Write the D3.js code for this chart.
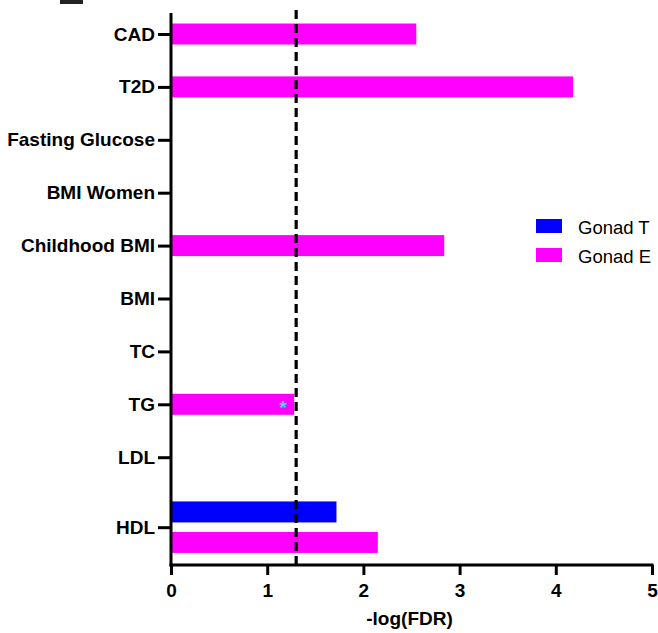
<!DOCTYPE html>
<html>
<head>
<meta charset="utf-8">
<script src="https://cdn.jsdelivr.net/npm/d3@7"></script>
<style>
  html, body { margin: 0; padding: 0; background: #fff; }
  svg { display: block; font-family: "Liberation Sans", Arial, sans-serif; }
</style>
</head>
<body>
<svg id="chart" width="658" height="633"></svg>
<script>
// ---- data ----
const categories = ["CAD", "T2D", "Fasting Glucose", "BMI Women", "Childhood BMI", "BMI", "TC", "TG", "LDL", "HDL"];
const gonadT = [null, null, null, null, null, null, null, null, null, 1.72];
const gonadE = [2.55, 4.18, null, null, 2.84, null, null, 1.28, null, 2.15];
const seriesNames = ["Gonad T", "Gonad E"];
const seriesColors = ["#0000ff", "#ff00ff"];
const xTicks = [0, 1, 2, 3, 4, 5];
const threshold = -Math.log10(0.05);
const significant = [{ cat: "TG", series: 1, mark: "*" }];
const xTitle = "-log(FDR)";

// ---- layout ----
const svg = d3.select("#chart");
const plotLeft = 171, plotRight = 652, plotTop = 13, plotBottom = 565;
const x = d3.scaleLinear().domain([0, 5]).range([plotLeft, plotRight]);

const series = [gonadT, gonadE];
// slot size per category depends on how many bars it holds
const nBars = categories.map((c, i) => series.filter(s => s[i] != null).length);
const slot = nBars.map(n => n > 1 ? 1.646 : 1);
const cum = [];
slot.reduce((acc, s, i) => { cum[i] = acc; return acc + s; }, 0);
const totalSlots = d3.sum(slot);
const ySlot = d3.scaleLinear().domain([0, totalSlots]).range([7.55, 7.55 + 52.9 * totalSlots]);
const centers = categories.map((c, i) => ySlot(cum[i] + slot[i] / 2));
const y = d3.scaleOrdinal().domain(categories).range(centers);
const barH = 21, groupOffset = 15.25;

// bars
const bars = [];
categories.forEach((c, i) => {
  const present = series.map((s, k) => k).filter(k => series[k][i] != null);
  present.forEach((k, j) => {
    const off = present.length > 1 ? (j === 0 ? -groupOffset : groupOffset) : 0;
    bars.push({ cat: c, k, v: series[k][i], cy: y(c) + off });
  });
});
svg.append("g").selectAll("rect").data(bars).join("rect")
  .attr("x", x(0))
  .attr("y", d => d.cy - barH / 2)
  .attr("width", d => x(d.v) - x(0))
  .attr("height", barH)
  .attr("fill", d => seriesColors[d.k]);

// significance marks
svg.append("g").selectAll("text").data(significant).join("text")
  .attr("x", d => { const i = categories.indexOf(d.cat); return x(series[d.series][i]) - 11; })
  .attr("y", d => y(d.cat) + 10)
  .attr("text-anchor", "middle")
  .attr("font-size", 19)
  .attr("font-weight", "bold")
  .attr("fill", "#38d8f8")
  .text(d => d.mark);

// threshold line
svg.append("line")
  .attr("x1", x(threshold)).attr("x2", x(threshold))
  .attr("y1", 10).attr("y2", plotBottom)
  .attr("stroke", "#000").attr("stroke-width", 3.2)
  .attr("stroke-dasharray", "9,5");

// x axis
const xAxis = svg.append("g").attr("transform", `translate(0,${plotBottom})`)
  .call(d3.axisBottom(x).tickValues(xTicks).tickFormat(d3.format("d")).tickSizeInner(10).tickSizeOuter(0));
xAxis.select(".domain").remove();
xAxis.selectAll(".tick line").attr("stroke", "#000").attr("stroke-width", 3);
xAxis.selectAll(".tick text").attr("font-size", 19).attr("font-weight", "bold").attr("fill", "#000")
  .attr("dy", null).attr("y", 32).attr("font-family", "Liberation Sans, Arial, sans-serif");
svg.append("line").attr("x1", plotLeft - 1.5).attr("x2", plotRight + 1.5)
  .attr("y1", plotBottom).attr("y2", plotBottom)
  .attr("stroke", "#000").attr("stroke-width", 3);

// y axis
const yAxis = svg.append("g").attr("transform", `translate(${plotLeft},0)`)
  .call(d3.axisLeft(y).tickSizeInner(13).tickSizeOuter(0).tickPadding(3));
yAxis.select(".domain").remove();
yAxis.selectAll(".tick line").attr("stroke", "#000").attr("stroke-width", 3);
yAxis.selectAll(".tick text").attr("font-size", 19).attr("font-weight", "bold").attr("fill", "#000")
  .attr("font-family", "Liberation Sans, Arial, sans-serif");
svg.append("line").attr("x1", plotLeft).attr("x2", plotLeft)
  .attr("y1", plotTop).attr("y2", plotBottom + 1.5)
  .attr("stroke", "#000").attr("stroke-width", 3);

// x title
svg.append("text")
  .attr("x", (plotLeft + plotRight) / 2 - 2).attr("y", 625)
  .attr("text-anchor", "middle")
  .attr("font-size", 19).attr("font-weight", "bold")
  .text(xTitle);

// legend
const legend = svg.append("g").attr("transform", "translate(536,219)");
seriesNames.forEach((name, k) => {
  legend.append("rect").attr("x", 0).attr("y", k * 29).attr("width", 26).attr("height", 14)
    .attr("fill", seriesColors[k]);
  legend.append("text").attr("x", 42).attr("y", k * 29 + 14.5)
    .attr("font-size", 18.5).text(name);
});

// panel letter fragment (cropped) at top-left
svg.append("rect").attr("x", 60).attr("y", 0).attr("width", 23).attr("height", 4).attr("fill", "#222");
</script>
</body>
</html>
